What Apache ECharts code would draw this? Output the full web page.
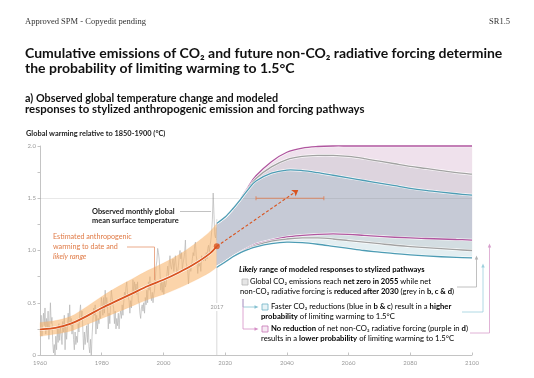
<!DOCTYPE html>
<html><head><meta charset="utf-8">
<script src="https://cdn.jsdelivr.net/npm/echarts@6/dist/echarts.min.js"></script>
<style>html,body{margin:0;padding:0;background:#fff}#c{width:534px;height:378px}</style>
</head><body><div id="c"></div>
<script>
// ---------- data ----------
const xTickInterval = 20;
const yTickInterval = 0.5;
const obsStart = 1960, obsPerYear = 4;
const observedQuarterly = [
 0.22,0.38,0.18,0.30, 0.40,0.28,0.45,0.20, 0.35,0.25,0.42,0.15, 0.28,0.50,0.30,0.36,
 0.12,0.02,0.10,0.00, 0.18,0.05,0.25,0.12, 0.30,0.14,0.26,0.20, 0.10,0.32,0.22,0.38,
 0.05,0.28,0.15,0.26, 0.40,0.30,0.48,0.28, 0.35,0.20,0.32,0.15, 0.05,0.22,0.10,0.18,
 0.12,0.30,0.22,0.40, 0.48,0.35,0.42,0.25, 0.05,0.22,0.10,0.18, 0.28,0.12,0.30,0.08,
 0.02,0.15,-0.02,0.18, 0.32,0.45,0.38,0.48, 0.20,0.38,0.25,0.35, 0.30,0.42,0.35,0.55,
 0.50,0.38,0.55,0.40, 0.62,0.45,0.55,0.48, 0.25,0.40,0.30,0.50, 0.62,0.55,0.48,0.45,
 0.30,0.42,0.25,0.35, 0.28,0.40,0.25,0.38, 0.42,0.35,0.48,0.38, 0.50,0.60,0.55,0.65,
 0.70,0.58,0.55,0.52, 0.40,0.52,0.45,0.58, 0.72,0.60,0.70,0.62, 0.68,0.58,0.70,0.52,
 0.50,0.40,0.35,0.45, 0.48,0.42,0.50,0.40, 0.55,0.48,0.62,0.50, 0.70,0.62,0.75,0.58,
 0.52,0.60,0.50,0.58, 0.62,0.72,0.85,0.90, 1.02,0.98,0.92,0.80, 0.62,0.70,0.60,0.72,
 0.58,0.72,0.65,0.68, 0.78,0.85,0.75,0.88, 0.95,0.85,0.82,0.88, 0.92,0.80,0.88,0.95,
 0.85,0.78,0.80,0.86, 0.95,1.00,0.92,0.98, 0.82,0.88,0.92,0.98, 1.10,0.88,0.85,0.80,
 0.68,0.82,0.85,0.80, 0.85,0.92,0.98,0.95, 1.05,1.08,0.95,0.90, 0.78,0.88,0.85,0.88,
 0.80,0.95,0.92,0.90, 0.92,0.95,0.90,0.98, 0.92,1.02,1.05,0.98, 1.05,1.10,1.18,1.30,
 1.55,1.35,1.15,1.12, 1.22,1.10,1.15
];
const anthYears   = [1960,1965,1970,1975,1980,1985,1990,1995,2000,2005,2010,2015,2017.3];
const anthCentral = [0.245,0.26,0.30,0.37,0.45,0.52,0.59,0.66,0.72,0.79,0.87,0.97,1.04];
const anthLower   = [0.18,0.20,0.23,0.29,0.35,0.41,0.47,0.53,0.58,0.64,0.71,0.79,0.84];
const anthUpper   = [0.31,0.33,0.37,0.46,0.56,0.65,0.73,0.81,0.88,0.96,1.06,1.18,1.26];

const projYears   = [2017.3,2020,2022.5,2025,2027.5,2030,2035,2040,2045,2050,2055,2060,2065,2070,2075,2080,2085,2090,2095,2100];
const blueUpper   = [1.26,1.32,1.40,1.49,1.585,1.665,1.74,1.77,1.765,1.745,1.72,1.695,1.67,1.645,1.62,1.595,1.575,1.558,1.543,1.53];
const greyUpper   = [1.26,1.32,1.40,1.49,1.595,1.69,1.80,1.87,1.90,1.91,1.91,1.90,1.88,1.855,1.83,1.805,1.785,1.765,1.745,1.73];
const purpleUpper = [1.26,1.32,1.40,1.495,1.61,1.715,1.85,1.94,1.98,1.995,2.0,2.0,2.0,2.0,2.0,2.0,2.0,2.0,2.0,2.0];
const blueLower   = [0.84,0.89,0.94,0.98,1.01,1.035,1.065,1.08,1.075,1.06,1.04,1.02,1.0,0.985,0.97,0.958,0.948,0.94,0.934,0.93];
const greyLower   = [0.84,0.89,0.94,0.982,1.018,1.05,1.09,1.11,1.12,1.12,1.11,1.095,1.08,1.065,1.05,1.038,1.027,1.017,1.008,1.0];
const purpleLower = [0.84,0.89,0.94,0.985,1.025,1.06,1.10,1.13,1.145,1.155,1.16,1.155,1.145,1.135,1.127,1.12,1.115,1.11,1.105,1.10];

const greyRangeFull = [1.0,1.72],  greyRangeLikely = [1.17,1.51];
const blueRangeFull = [0.98,1.53], blueRangeLikely = [1.07,1.335];
const purpleRangeFull = [1.11,2.0], purpleRangeLikely = [1.325,1.735];

const arrowYears = [2017.3,2043.7], arrowValues = [1.04,1.58];
const crossingYears = [2030,2052], crossingLevel = 1.5;
const markYear = 2017.3;

// ---------- colours ----------
const ORANGE='#d9531e', PURPLE='#b0569f', GREY='#a2a2a2', BLUE='#4d9cb4';

function curve(P){
  let s='';
  for(let i=0;i<P.length-1;i++){
    const p0=P[Math.max(i-1,0)],p1=P[i],p2=P[i+1],p3=P[Math.min(i+2,P.length-1)],k=1/6;
    const c1=[p1[0]+(p2[0]-p0[0])*k,p1[1]+(p2[1]-p0[1])*k];
    const c2=[p2[0]-(p3[0]-p1[0])*k,p2[1]-(p3[1]-p1[1])*k];
    s+='C'+c1[0].toFixed(2)+','+c1[1].toFixed(2)+' '+c2[0].toFixed(2)+','+c2[1].toFixed(2)+' '+p2[0].toFixed(2)+','+p2[1].toFixed(2);
  }
  return s;
}
function band(xs,lo,hi,fill,z){
  return {type:'custom',coordinateSystem:'cartesian2d',silent:true,z,clip:false,
    data:[[xs[0],lo[0]]],encode:{x:0,y:1},
    renderItem:(p,api)=>{
      const up=xs.map((x,i)=>api.coord([x,hi[i]]));
      const dn=xs.map((x,i)=>api.coord([x,lo[i]])).reverse();
      const d='M'+up[0][0]+','+up[0][1]+curve(up)+'L'+dn[0][0]+','+dn[0][1]+curve(dn)+'Z';
      return {type:'path',shape:{pathData:d},style:{fill,stroke:fill,lineWidth:0.3}};
    }};
}
function edge(xs,ys,color,z,w){
  return {type:'custom',coordinateSystem:'cartesian2d',silent:true,z,clip:false,
    data:[[xs[0],ys[0]]],encode:{x:0,y:1},
    renderItem:(p,api)=>{
      const P=xs.map((x,i)=>api.coord([x,ys[i]]));
      const d='M'+P[0][0]+','+P[0][1]+curve(P);
      return {type:'group',children:[
        {type:'path',shape:{pathData:d},style:{fill:null,stroke:'rgba(255,255,255,0.85)',lineWidth:(w||1.3)+1.3}},
        {type:'path',shape:{pathData:d},style:{fill:null,stroke:color,lineWidth:w||1.3}}]};
    }};
}
function rangeBar(x,full,likely,thin,thick){
  return [
   {type:'line',data:[[x,full[0]],[x,full[1]]],symbol:'none',clip:false,silent:true,z:20,lineStyle:{width:0.9,color:thin}},
   {type:'line',data:[[x,likely[0]],[x,likely[1]]],symbol:'none',clip:false,silent:true,z:21,lineStyle:{width:2.6,color:thick}}];
}

const series=[
 {type:'line',data:observedQuarterly.map((v,i)=>[obsStart+(i+0.5)/obsPerYear,v]),symbol:'none',silent:true,z:2,
  lineStyle:{width:0.7,color:'#b5b5b5'}},
 {type:'line',data:[[markYear,0],[markYear,1.3]],symbol:'none',silent:true,z:1,lineStyle:{width:0.8,color:'#cfcfcf'}},
 band(anthYears,anthLower,anthUpper,'rgba(247,176,100,0.55)',3),
 band(projYears,blueLower,greyLower,'#e3eef1',4),
 band(projYears,greyLower,purpleLower,'#d3dde1',4),
 band(projYears,purpleLower,blueUpper,'#c6cad6',4),
 band(projYears,blueUpper,greyUpper,'#ddd4de',4),
 band(projYears,greyUpper,purpleUpper,'#efe1ec',4),
 edge(projYears,purpleUpper,PURPLE,6), edge(projYears,purpleLower,PURPLE,6),
 edge(projYears,greyUpper,GREY,7), edge(projYears,greyLower,GREY,7),
 edge(projYears,blueUpper,BLUE,8), edge(projYears,blueLower,BLUE,8),
 {type:'line',data:[],silent:true,z:9,markLine:{silent:true,symbol:'none',label:{show:false},
   lineStyle:{color:'rgba(120,120,120,0.22)',width:0.8,type:'solid'},data:[{yAxis:1.5}]}},
 edge(anthYears,anthCentral,ORANGE,10,1.8),
 {type:'scatter',data:[[anthYears[anthYears.length-1],anthCentral[anthCentral.length-1]]],symbolSize:6,silent:true,z:11,itemStyle:{color:ORANGE}},
 {type:'line',data:[],silent:true,z:11,markLine:{silent:true,symbol:['none','arrow'],symbolSize:6,label:{show:false},
   lineStyle:{color:ORANGE,width:1.1,type:[3,2]},
   data:[[{coord:[arrowYears[0],arrowValues[0]]},{coord:[arrowYears[1],arrowValues[1]]}]]}},
 {type:'line',data:[[crossingYears[0],crossingLevel],[crossingYears[1],crossingLevel]],symbol:'rect',symbolSize:[0.8,4],
  silent:true,z:11,lineStyle:{width:0.8,color:'#e07a4c'},itemStyle:{color:'#e07a4c'}},
 ...rangeBar(2101.5,greyRangeFull,greyRangeLikely,'#bdbdbd','#9c9c9c'),
 ...rangeBar(2103.6,blueRangeFull,blueRangeLikely,'#a7d3df','#3f93ab'),
 ...rangeBar(2105.7,purpleRangeFull,purpleRangeLikely,'#dca6d0','#a8418f'),
];

const SANS='Lato, "Noto Sans", sans-serif';
function T(x,y,text,font,fill,extra){
  return {type:'text',x,y,silent:true,z:100,
    style:Object.assign({text,font,fill,align:'left',verticalAlign:'middle',textAlign:'left',textVerticalAlign:'middle'},extra||{})};
}
function R(x,y,text,size,rich,extra){
  const r={};
  for(const k in rich) r[k]=Object.assign({fontSize:size,fontFamily:SANS},rich[k]);
  return {type:'text',x,y,silent:true,z:100,style:Object.assign({text,rich:r,align:'left',verticalAlign:'middle',textAlign:'left',textVerticalAlign:'middle'},extra||{})};
}
function PL(points,stroke,w){return {type:'polyline',silent:true,z:90,shape:{points},style:{stroke,lineWidth:w||0.8,fill:null}};}
function TRI(points,fill){return {type:'polygon',silent:true,z:91,shape:{points},style:{fill}};}
function BOX(x,y,stroke,fill){return {type:'rect',silent:true,z:95,shape:{x,y,width:6,height:6},style:{stroke,fill,lineWidth:0.8}};}

const gTxt='#9a9a9a', gB='#7d7d7d', bT='#3f93ad', pT='#b03a96';
const GS=7.6, LS=7.7;
const graphic=[
 T(25,22,'Approved SPM - Copyedit pending','8.5px "Liberation Serif", serif','#333'),
 T(510,22,'SR1.5','8.5px "Liberation Serif", serif','#333',{align:'right',textAlign:'right'}),
 T(25,53,'Cumulative emissions of CO₂ and future non-CO₂ radiative forcing determine','bold 14px '+SANS,'#111'),
 T(25,68,'the probability of limiting warming to 1.5°C','bold 14px '+SANS,'#111'),
 T(25,99,'a) Observed global temperature change and modeled','bold 10.8px '+SANS,'#111'),
 T(25,109.5,'responses to stylized anthropogenic emission and forcing pathways','bold 11.4px '+SANS,'#111'),
 T(26,134,'Global warming relative to 1850-1900 (°C)','bold 7.4px '+SANS,'#222'),
 T(92,211.5,'Observed monthly global','bold 7.4px '+SANS,'#222'),
 T(92,220.5,'mean surface temperature','bold 7.4px '+SANS,'#222'),
 PL([[180,211.5],[211,211.5]],'#999',0.6),
 T(53,237,'Estimated anthropogenic','7.2px '+SANS,'#e07b47'),
 T(53,247,'warming to date and','7.2px '+SANS,'#e07b47'),
 T(53,257,'likely range','italic 7.2px '+SANS,'#e07b47'),
 PL([[127,247],[154.5,247],[154.5,280]],'#e3875a',0.7),
 T(217,307,'2017','5.5px '+SANS,'#999',{align:'center',textAlign:'center',backgroundColor:'#fff',padding:[1,1]}),
 R(239,270,'{i|Likely}{b| range of modeled responses to stylized pathways}',7.6,
   {i:{fontStyle:'italic',fontWeight:'bold',color:'#111'},b:{fontWeight:'bold',color:'#111'}}),
 BOX(242,279,'#b5b5b5','#e6e6e6'),
 R(250,282,'{n|Global CO₂ emissions reach }{b|net zero in 2055}{n| while net}',GS,{n:{color:gTxt},b:{color:gB,fontWeight:'bold'}}),
 R(240,292,'{n|non-CO₂ radiative forcing is }{b|reduced after 2030}{n| (grey in }{b|b, c & d}{n|)}',GS,{n:{color:gTxt},b:{color:gB,fontWeight:'bold'}}),
 PL([[243,299],[243,307],[255,307]],'#86c1d1',0.8), TRI([[258.5,307],[254.5,305.2],[254.5,308.8]],'#86c1d1'),
 PL([[243,299],[243,329],[255,329]],'#d58fc6',0.8), TRI([[258.5,329],[254.5,327.2],[254.5,330.8]],'#d58fc6'),
 BOX(262,304,'#6fb3c6','#e8f3f6'),
 R(271,307,'{n|Faster CO₂ reductions (blue in }{b|b & c}{n|) result in a }{b|higher}',LS,{n:{color:bT},b:{color:bT,fontWeight:'bold'}}),
 R(261,316.5,'{b|probability}{n| of limiting warming to 1.5°C}',LS,{n:{color:bT},b:{color:bT,fontWeight:'bold'}}),
 BOX(262,326,'#c774b4','#f6e9f3'),
 R(271,329,'{b|No reduction}{n| of net non-CO₂ radiative forcing (purple in }{b|d}{n|)}',LS,{n:{color:pT},b:{color:pT,fontWeight:'bold'}}),
 R(261,339,'{n|results in a }{b|lower probability}{n| of limiting warming to 1.5°C}',LS,{n:{color:pT},b:{color:pT,fontWeight:'bold'}}),
 PL([[457,287],[476.5,287],[476.5,259]],'#b0b0b0',0.8), TRI([[476.5,255.5],[474.8,259.5],[478.2,259.5]],'#b0b0b0'),
 PL([[462,312],[483,312],[483,267]],'#9ccfdd',0.8), TRI([[483,263.5],[481.3,267.5],[484.7,267.5]],'#9ccfdd'),
 PL([[470,333],[489.5,333],[489.5,247]],'#d89fcc',0.8), TRI([[489.5,243.5],[487.8,247.5],[491.2,247.5]],'#d89fcc'),
];

const chart=echarts.init(document.getElementById('c'),null,{renderer:'canvas'});
chart.setOption({
 animation:false,
 backgroundColor:'#fff',
 grid:{left:40,right:62,top:146,bottom:23,containLabel:false},
 xAxis:{type:'value',min:1960,max:2100,interval:xTickInterval,
   axisLine:{show:true,lineStyle:{color:'#c4c4c4',width:1}},
   axisTick:{show:true,inside:true,length:2.5,lineStyle:{color:'#c4c4c4'}},
   axisLabel:{fontSize:6,color:'#9a9a9a',margin:5,fontFamily:SANS,formatter:v=>String(v)},
   splitLine:{show:false}},
 yAxis:{type:'value',min:0,max:2,interval:yTickInterval,
   axisLine:{show:true,lineStyle:{color:'#c4c4c4',width:1}},
   axisTick:{show:true,length:2.5,lineStyle:{color:'#c4c4c4'}},
   minorTick:{show:true,splitNumber:2,length:2.5,lineStyle:{color:'#c4c4c4'}},
   axisLabel:{fontSize:6,color:'#9a9a9a',margin:4,fontFamily:SANS,formatter:v=>v===0?'0':v.toFixed(1)},
   splitLine:{show:false}},
 series,
 graphic
});
</script></body></html>
